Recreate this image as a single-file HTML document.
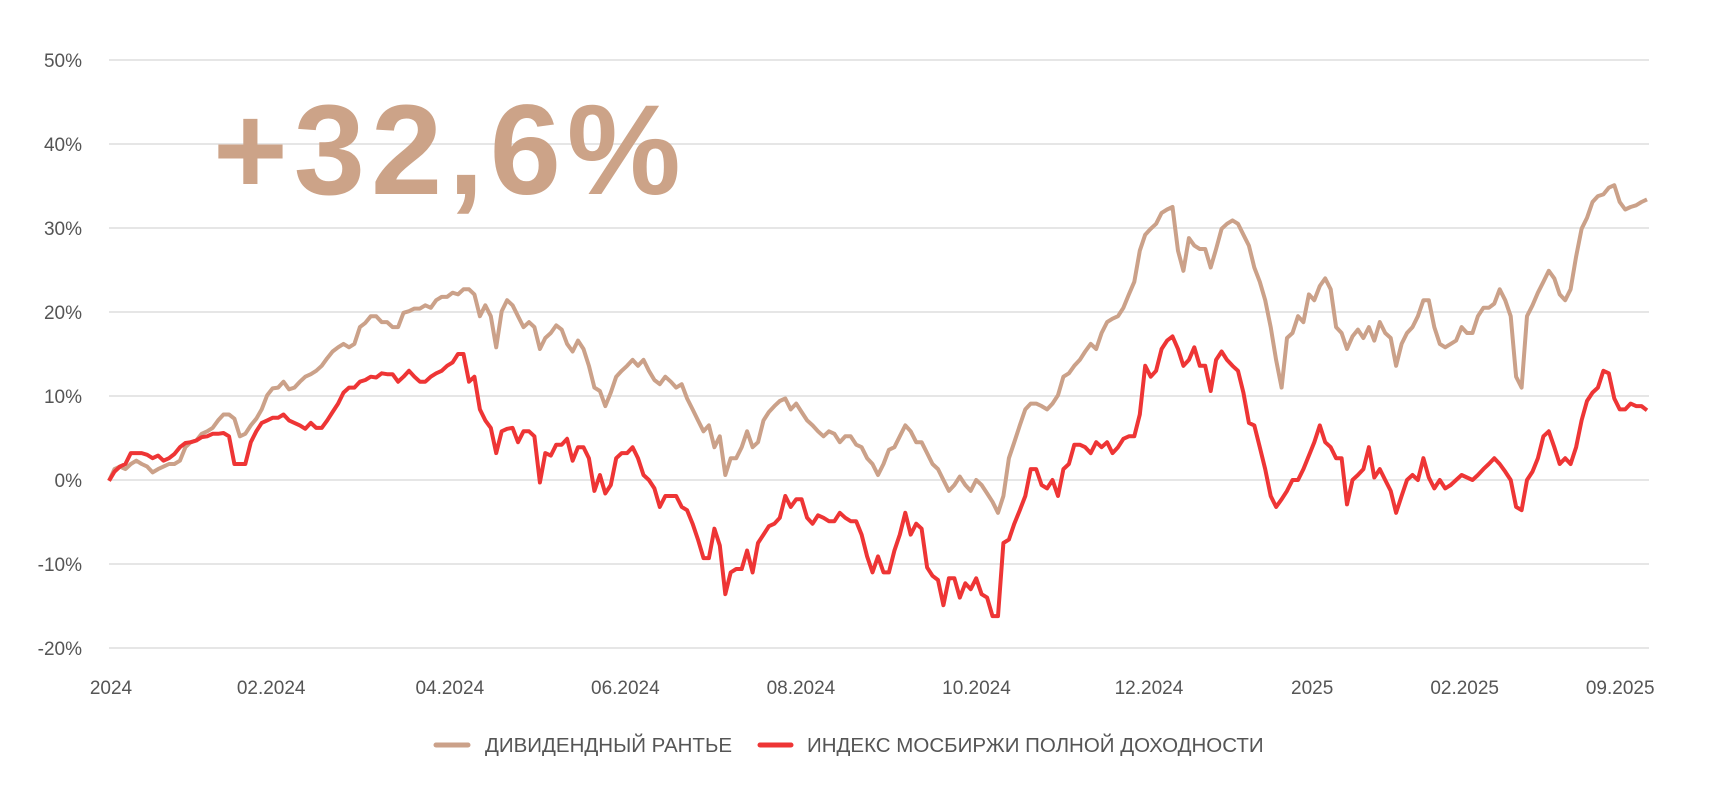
<!DOCTYPE html>
<html><head><meta charset="utf-8"><style>
html,body{margin:0;padding:0;background:#fff;width:1710px;height:795px;overflow:hidden}
svg{display:block;font-family:"Liberation Sans","DejaVu Sans",sans-serif}
</style></head><body>
<svg id="chart" width="1710" height="795" viewBox="0 0 1710 795" xmlns="http://www.w3.org/2000/svg">
<g id="grid"></g>
<g id="yticks"></g>
<g id="xticks"></g>
<text x="213" y="194" font-size="128" letter-spacing="6" fill="#cca388" font-weight="bold">+32,6%</text>
<g id="series"></g>
<g>
<g>
<line x1="436" y1="745" x2="468" y2="745" stroke="#cba189" stroke-width="5" stroke-linecap="round"/>
<text x="485" y="752" font-size="20.5" fill="#555">ДИВИДЕНДНЫЙ РАНТЬЕ</text>
</g>
<g>
<line x1="760" y1="745" x2="791" y2="745" stroke="#ee3535" stroke-width="5" stroke-linecap="round"/>
<text x="807" y="752" font-size="20.5" fill="#555">ИНДЕКС МОСБИРЖИ ПОЛНОЙ ДОХОДНОСТИ</text>
</g>
</g>
</svg>
<script>
const yTicks = [50, 40, 30, 20, 10, 0, -10, -20];
const xTickLabels = ["2024","02.2024","04.2024","06.2024","08.2024","10.2024","12.2024","2025","02.2025","09.2025"];
const xTickPos = [0, 0.104, 0.22, 0.334, 0.448, 0.562, 0.674, 0.78, 0.879, 0.98];
const dividendSeries = [-0.1,1.3,1.6,1.3,1.9,2.3,1.9,1.6,0.9,1.3,1.6,1.9,1.9,2.3,3.9,4.5,4.7,5.5,5.8,6.2,7.1,7.8,7.8,7.3,5.2,5.5,6.5,7.3,8.4,10.1,10.9,11.0,11.7,10.8,11.0,11.7,12.3,12.6,13.0,13.6,14.5,15.3,15.8,16.2,15.8,16.2,18.2,18.7,19.5,19.5,18.8,18.8,18.2,18.2,19.9,20.1,20.4,20.4,20.8,20.5,21.4,21.8,21.8,22.3,22.1,22.7,22.7,22.1,19.5,20.8,19.5,15.8,20.1,21.4,20.8,19.5,18.2,18.8,18.2,15.6,16.9,17.5,18.4,17.9,16.2,15.3,16.6,15.6,13.6,11.0,10.6,8.8,10.4,12.3,13.0,13.6,14.3,13.6,14.3,13.0,11.9,11.4,12.3,11.7,11.0,11.4,9.7,8.4,7.1,5.8,6.5,3.9,5.2,0.6,2.6,2.6,3.9,5.8,3.9,4.5,7.1,8.1,8.8,9.4,9.7,8.4,9.1,8.1,7.1,6.5,5.8,5.2,5.8,5.5,4.5,5.2,5.2,4.2,3.9,2.6,1.9,0.6,1.9,3.6,3.9,5.2,6.5,5.8,4.5,4.5,3.2,1.9,1.3,0,-1.3,-0.6,0.4,-0.6,-1.3,0,-0.6,-1.6,-2.6,-3.9,-1.9,2.6,4.5,6.5,8.4,9.1,9.1,8.8,8.4,9.1,10.1,12.3,12.7,13.6,14.3,15.3,16.2,15.6,17.5,18.8,19.2,19.5,20.5,22.1,23.6,27.3,29.2,29.9,30.5,31.8,32.2,32.5,27.3,24.9,28.8,27.9,27.5,27.5,25.3,27.5,29.9,30.5,30.9,30.5,29.2,27.9,25.3,23.6,21.4,18.2,14.3,11.0,16.9,17.5,19.5,18.8,22.1,21.4,23.1,24.0,22.7,18.2,17.5,15.6,17.1,17.9,16.9,18.2,16.6,18.8,17.5,16.9,13.6,16.2,17.5,18.2,19.5,21.4,21.4,18.2,16.2,15.8,16.2,16.6,18.2,17.5,17.5,19.5,20.5,20.5,21.0,22.7,21.4,19.5,12.3,11.0,19.5,20.8,22.3,23.6,24.9,24.0,22.1,21.4,22.7,26.6,29.9,31.2,33.1,33.8,34.0,34.8,35.1,33.1,32.2,32.5,32.7,33.1,33.4];
const indexSeries = [-0.1,1.0,1.6,1.9,3.2,3.2,3.2,3.0,2.6,2.9,2.3,2.6,3.1,3.9,4.4,4.5,4.7,5.1,5.2,5.5,5.5,5.6,5.2,1.9,1.9,1.9,4.5,5.8,6.8,7.1,7.4,7.4,7.8,7.1,6.8,6.5,6.1,6.8,6.2,6.2,7.1,8.1,9.1,10.4,11.0,11.0,11.7,11.9,12.3,12.2,12.7,12.6,12.6,11.7,12.3,13.0,12.3,11.7,11.7,12.3,12.7,13.0,13.6,14.0,15.0,15.0,11.7,12.3,8.4,7.1,6.2,3.2,5.8,6.1,6.2,4.5,5.8,5.8,5.2,-0.3,3.2,2.9,4.2,4.2,4.9,2.3,3.9,3.9,2.6,-1.3,0.6,-1.6,-0.6,2.6,3.2,3.2,3.9,2.6,0.6,0,-1.0,-3.2,-1.9,-1.9,-1.9,-3.2,-3.6,-5.2,-7.1,-9.3,-9.3,-5.8,-7.8,-13.6,-11.0,-10.6,-10.6,-8.4,-11.0,-7.5,-6.5,-5.5,-5.2,-4.5,-1.9,-3.2,-2.3,-2.3,-4.5,-5.2,-4.2,-4.5,-4.9,-4.9,-3.9,-4.5,-4.9,-4.9,-6.5,-9.1,-11.0,-9.1,-11.0,-11.0,-8.4,-6.5,-3.9,-6.5,-5.2,-5.8,-10.4,-11.4,-11.9,-14.9,-11.7,-11.7,-14.0,-12.3,-13.0,-11.7,-13.6,-14.0,-16.2,-16.2,-7.5,-7.1,-5.2,-3.6,-1.9,1.3,1.3,-0.6,-1.0,0,-1.9,1.3,1.9,4.2,4.2,3.9,3.2,4.5,3.9,4.5,3.2,3.9,4.9,5.2,5.2,7.8,13.6,12.3,13.0,15.6,16.6,17.1,15.6,13.6,14.3,15.8,13.6,13.6,10.6,14.3,15.3,14.3,13.6,13.0,10.4,6.8,6.5,3.9,1.3,-1.9,-3.2,-2.3,-1.3,0,0,1.3,2.9,4.5,6.5,4.5,3.9,2.6,2.6,-2.9,0,0.6,1.3,3.9,0.3,1.3,0,-1.3,-3.9,-1.9,0,0.6,0,2.6,0.3,-1.0,0,-1.0,-0.6,0,0.6,0.3,0,0.6,1.3,1.9,2.6,1.9,1.0,0,-3.2,-3.6,0,1.0,2.6,5.2,5.8,3.9,1.9,2.6,1.9,3.9,7.1,9.4,10.4,11.0,13.0,12.7,9.7,8.4,8.4,9.1,8.8,8.8,8.3];

const NS = "http://www.w3.org/2000/svg";
const X0 = 109, X1 = 1649, Y_TOP = 60, Y_BOT = 648, VMAX = 50, VMIN = -20;
function yScale(v){ return Y_TOP + (VMAX - v) / (VMAX - VMIN) * (Y_BOT - Y_TOP); }
function xScaleIdx(i, n){ return X0 + i / (n - 1) * (X1 - X0 - 2); }
function xScaleFrac(f){ return X0 + f * (X1 - X0); }

const grid = document.getElementById('grid');
const yt = document.getElementById('yticks');
yTicks.forEach(v => {
  const l = document.createElementNS(NS, 'line');
  
  
  l.setAttribute('x1', X0); l.setAttribute('x2', X1);
  l.setAttribute('y1', yScale(v)); l.setAttribute('y2', yScale(v));
  l.setAttribute('stroke', '#e6e6e6'); l.setAttribute('stroke-width', '2');
  grid.appendChild(l);
  const t = document.createElementNS(NS, 'text');
  
  
  t.setAttribute('x', 82); t.setAttribute('y', yScale(v) + 7);
  t.setAttribute('text-anchor', 'end'); t.setAttribute('font-size', '19'); t.setAttribute('fill', '#555');
  t.textContent = v + '%';
  yt.appendChild(t);
});
const xt = document.getElementById('xticks');
xTickLabels.forEach((lab, i) => {
  const t = document.createElementNS(NS, 'text');
  
  
  t.setAttribute('x', xScaleFrac(xTickPos[i]) + 2); t.setAttribute('y', 694);
  t.setAttribute('text-anchor', 'middle'); t.setAttribute('font-size', '19'); t.setAttribute('fill', '#555');
  t.textContent = lab;
  xt.appendChild(t);
});
const series = document.getElementById('series');
function drawLine(vals, color, name){
  const p = document.createElementNS(NS, 'path');
  
  
  p.setAttribute('d', vals.map((v, i) => (i ? 'L' : 'M') + xScaleIdx(i, vals.length).toFixed(1) + ',' + yScale(v).toFixed(1)).join(''));
  p.setAttribute('fill', 'none'); p.setAttribute('stroke', color);
  p.setAttribute('stroke-width', '4'); p.setAttribute('stroke-linejoin', 'round');
  series.appendChild(p);
}
drawLine(dividendSeries, '#cba189', 'dividend-rentier-line');
drawLine(indexSeries, '#ee3535', 'moex-tr-index-line');
</script>
</body></html>
